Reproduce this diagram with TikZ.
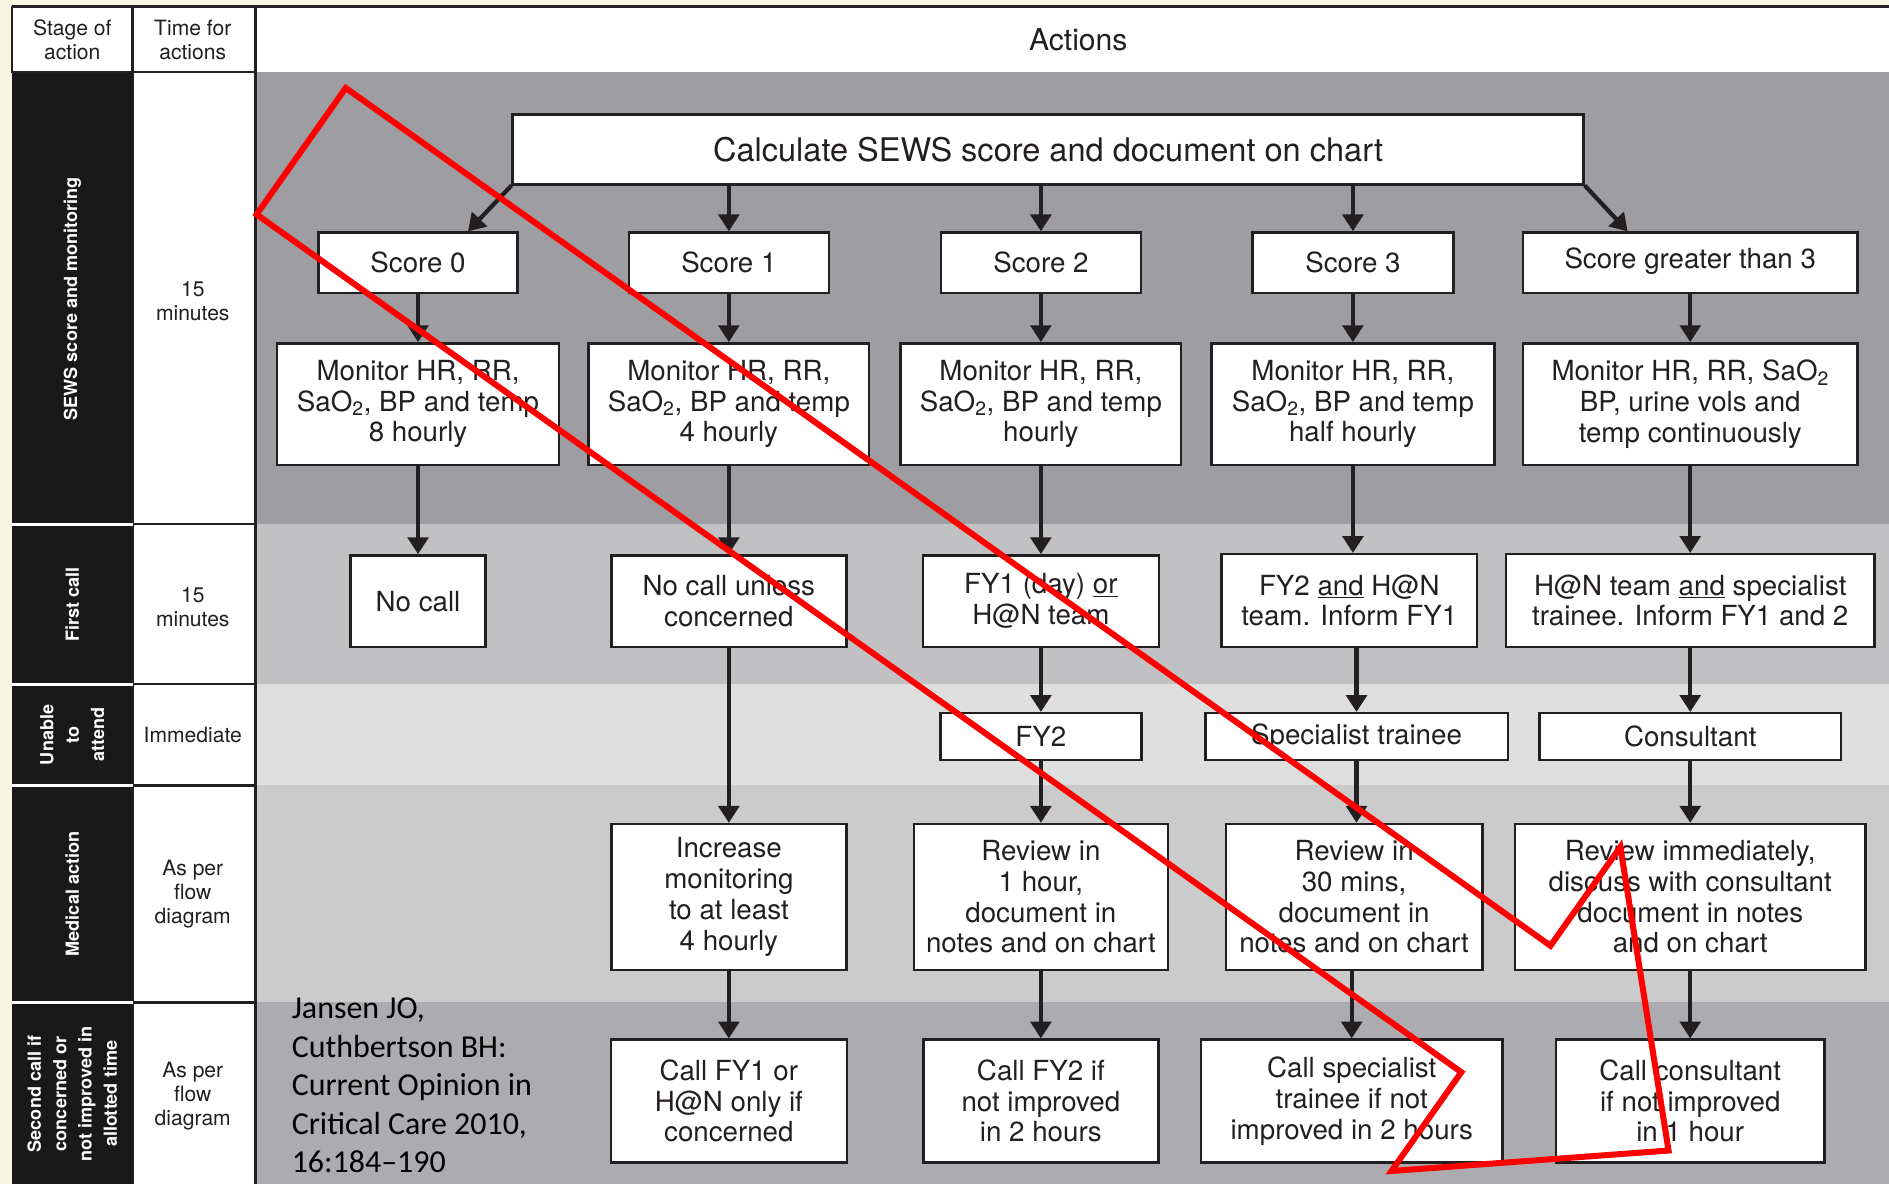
\documentclass[tikz,border=0pt]{standalone}
\usepackage{fontspec}
\setmainfont{TeX Gyre Heros}
\newfontfamily\citefont{Carlito}
\usetikzlibrary{arrows.meta}

\definecolor{creambg}{HTML}{F6F6E2}
\definecolor{inkgrey}{HTML}{231F20}
\definecolor{rowscore}{HTML}{9D9DA2}
\definecolor{rowcall}{HTML}{C1C1C3}
\definecolor{rowunable}{HTML}{DEDEDE}
\definecolor{rowmedical}{HTML}{CBCBCB}
\definecolor{rowsecond}{HTML}{ACACB0}

\tikzset{
  box/.style={draw=inkgrey, fill=white, line width=2pt, align=center, inner sep=0pt,
    text=inkgrey, font=\fontsize{23}{25.5}\selectfont},
  boxdim/.style 2 args={minimum width=#1pt, minimum height=#2pt},
  flow/.style={-{Triangle[width=17pt,length=14pt]}, line width=3.5pt, draw=inkgrey},
  stage/.style={rotate=90, text=white, align=center, font=\bfseries\fontsize{15}{21}\selectfont},
  timing/.style={align=center, text=inkgrey, font=\fontsize{17.5}{20}\selectfont},
}

\begin{document}
\begin{tikzpicture}[x=1pt, y=-1pt]
\useasboundingbox (0,0) rectangle (1568,983);
\fill[creambg] (0,0) rectangle (1568,983);
% row bands
\fill[white] (10,5) rectangle (1568,60);
\fill[rowscore] (212,60) rectangle (1568,435);
\fill[rowcall] (212,435) rectangle (1568,568);
\fill[rowunable] (212,568) rectangle (1568,652);
\fill[rowmedical] (212,652) rectangle (1568,832);
\fill[rowsecond] (212,832) rectangle (1568,983);
\fill[black!90] (10,60) rectangle (110,983);
\fill[white] (110,60) rectangle (212,983);
% grid
\draw[line width=2.5pt, inkgrey] (10,5) -- (1568,5);
\draw[line width=2pt, inkgrey] (10,5) -- (10,60) -- (212,60);
\draw[line width=2pt, inkgrey] (110,5) -- (110,983) (212,5) -- (212,983);
\foreach \y in {435,568,652,832}
{
    \draw[white, line width=2.5pt] (10,\y) -- (110,\y);
    \draw[inkgrey, line width=2pt] (110,\y) -- (212,\y);
}

% header
\node[timing] (hstage) at (60,33) {Stage of\\action};
\node[timing] (htime) at (160,33) {Time for\\actions};
\node[text=inkgrey, font=\fontsize{25}{28}\selectfont] (hactions) at (895,33) {Actions};

% stages and times
\node[stage] (stscore) at (60,248) {SEWS score and monitoring};
\node[stage] (stcall) at (60,502) {First call};
\node[stage] (stunable) at (60,610) {Unable\\to\\attend};
\node[stage] (stmedical) at (60,742) {Medical action};
\node[stage] (stsecond) at (60,908) {Second call if\\concerned or\\not improved in\\allotted time};
\node[timing] (tmscore) at (160,250) {15\\minutes};
\node[timing] (tmcall) at (160,504) {15\\minutes};
\node[timing] (tmunable) at (160,610) {Immediate};
\node[timing] (tmmedical) at (160,742) {As per\\flow\\diagram};
\node[timing] (tmsecond) at (160,910) {As per\\flow\\diagram};

% flow boxes
\node[box, boxdim={889}{58}, font=\fontsize{27}{30}\selectfont] (main) at (870,124) {Calculate SEWS score and document on chart};

\node[box, boxdim={165}{50}] (s0) at (347,218) {Score 0};
\node[box, boxdim={166}{50}] (s1) at (605,218) {Score 1};
\node[box, boxdim={166}{50}] (s2) at (864,218) {Score 2};
\node[box, boxdim={167}{50}] (s3) at (1123,218) {Score 3};
\node[box, boxdim={278}{50}] (s4) at (1403,218) {\strut Score greater than 3};

\node[box, boxdim={234}{101}] (m0) at (347,335.5) {Monitor HR, RR,\\SaO\textsubscript{2}, BP and temp\\8 hourly};
\node[box, boxdim={233}{101}] (m1) at (605,335.5) {Monitor HR, RR,\\SaO\textsubscript{2}, BP and temp\\4 hourly};
\node[box, boxdim={233}{101}] (m2) at (864,335.5) {Monitor HR, RR,\\SaO\textsubscript{2}, BP and temp\\hourly};
\node[box, boxdim={235}{101}] (m3) at (1123,335.5) {Monitor HR, RR,\\SaO\textsubscript{2}, BP and temp\\half hourly};
\node[box, boxdim={278}{101}] (m4) at (1403,335.5) {Monitor HR, RR, SaO\textsubscript{2}\\BP, urine vols and\\temp continuously};

\node[box, boxdim={112}{76}] (c0) at (347,499) {No call};
\node[box, boxdim={195}{76}] (c1) at (605,499) {No call unless\\concerned};
\node[box, boxdim={196}{76}] (c2) at (864,499) {FY1 (day) \underline{or}\\H@N team};
\node[box, boxdim={212}{77}] (c3) at (1120,498.5) {FY2 \underline{and} H@N\\team. Inform FY1};
\node[box, boxdim={306}{77}] (c4) at (1403,498.5) {H@N team \underline{and} specialist\\trainee. Inform FY1 and 2};

\node[box, boxdim={167}{39}] (u2) at (864,611.5) {FY2};
\node[box, boxdim={251}{39}] (u3) at (1126,611.5) {Specialist trainee};
\node[box, boxdim={250}{39}] (u4) at (1403,611.5) {Consultant};

\node[box, boxdim={195}{121}] (a1) at (605,744.5) {Increase\\monitoring\\to at least\\4 hourly};
\node[box, boxdim={211}{121}] (a2) at (864,744.5) {Review in\\1 hour,\\document in\\notes and on chart};
\node[box, boxdim={213}{121}] (a3) at (1124,744.5) {Review in\\30 mins,\\document in\\notes and on chart};
\node[box, boxdim={291}{121}] (a4) at (1403,744.5) {Review immediately,\\discuss with consultant\\document in notes\\and on chart};

\node[box, boxdim={196}{102}] (f1) at (605,914) {Call FY1 or\\H@N only if\\concerned};
\node[box, boxdim={195}{102}] (f2) at (864,914) {Call FY2 if\\not improved\\in 2 hours};
\node[box, boxdim={250}{102}] (f3) at (1122,914) {Call specialist\\trainee if not\\improved in 2 hours};
\node[box, boxdim={223}{102}] (f4) at (1403,914) {Call consultant\\if not improved\\in 1 hour};

% arrows
\draw[flow] (main.south west) -- ([xshift=-42pt]s0.north east);
\draw[flow] (main.south east) -- ([xshift=88pt]s4.north west);
\foreach \c in {1,2,3}
    \draw[flow] (s\c |- main.south) -- (s\c);
\foreach \c in {0,...,4}
{
    \draw[flow] (s\c) -- (m\c);
    \draw[flow] (m\c.south) -- (m\c.south |- c\c.north);
}
\draw[flow] (c1) -- (a1);
\draw[flow] (a1) -- (f1);
\foreach \c in {2,3,4}
{
    \draw[flow] (c\c.south -| u\c) -- (u\c);
    \draw[flow] (u\c) -- (u\c |- a\c.north);
    \draw[flow] (a\c.south -| f\c) -- (f\c);
}

% citation
\node[anchor=north west, align=left, text=black, inner sep=0pt,
      font=\citefont\fontsize{26.5}{32}\selectfont] (source) at (242,828)
      {Jansen JO,\\Cuthbertson BH:\\Current Opinion in\\Critical Care 2010,\\16:184–190};

% red overlay
\draw[red, line width=5pt, line join=miter]
    (213,178) -- (287,73) -- (1287,785) -- (1345,703) -- (1385,955) -- (1155,972) -- (1213,890) -- cycle;
\end{tikzpicture}
\end{document}
